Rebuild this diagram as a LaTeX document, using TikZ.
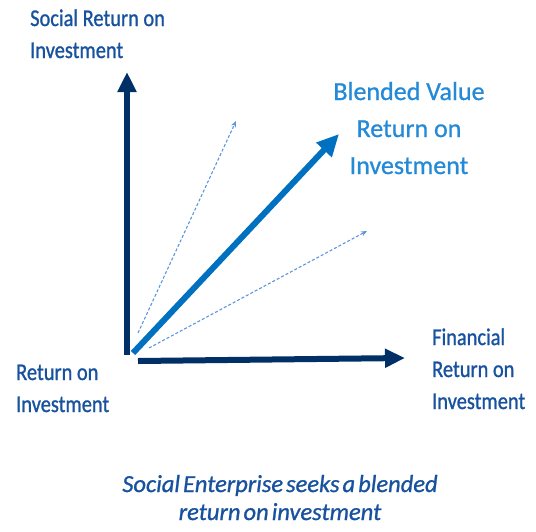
\documentclass[tikz,border=0pt]{standalone}
\usepackage{fontspec}
\usetikzlibrary{arrows.meta}
\newfontfamily\lblfont[FakeStretch=0.85,FakeBold=1]{Carlito}
\newfontfamily\bvfont[FakeBold=0.8]{Carlito}
\newfontfamily\capfont[FakeBold=1,WordSpace=0.55]{Carlito}
\definecolor{navy}{RGB}{0,48,102}
\definecolor{lblblue}{RGB}{24,82,158}
\definecolor{bvtext}{RGB}{36,138,216}
\definecolor{bvarrow}{RGB}{0,112,192}
\definecolor{dotblue}{RGB}{90,150,220}
\tikzset{
  axis/.style={draw=navy, line width=6pt, -{Triangle[length=20pt,width=18pt]}},
  blend/.style={draw=bvarrow, line width=6pt, -{Triangle[length=22pt,width=20pt]}},
  dots/.style={draw=dotblue, line width=1.1pt, dash pattern=on 3pt off 2pt, -{Stealth[length=6pt,width=5pt]}},
  lbl/.style={inner sep=0pt, text=lblblue, font=\lblfont\fontsize{24}{32}\selectfont, align=left, anchor=base west},
  bv/.style={inner sep=0pt, text=bvtext, font=\bvfont\fontsize{26}{37}\selectfont, align=center, anchor=base},
  captionstyle/.style={inner sep=0pt, text=lblblue, font=\capfont\itshape\fontsize{24.5}{28}\selectfont, align=center, anchor=base}
}
\begin{document}
\begin{tikzpicture}[x=1pt,y=-1pt]
\useasboundingbox (0,0) rectangle (536,531);
\coordinate (vo) at (127,355);
\coordinate (vt) at (127,72);
\coordinate (ho) at (138,361);
\coordinate (ht) at (405,358);
\coordinate (bo) at (133,353);
\coordinate (bt) at (339,134);
\coordinate (d1o) at (138,333);
\coordinate (d1t) at (236,121);
\coordinate (d2o) at (149,348);
\coordinate (d2t) at (367,231);
\draw[axis] (vo) -- (vt);
\draw[axis] (ho) -- (ht);
\draw[dots] (d1o) -- (d1t);
\draw[dots] (d2o) -- (d2t);
\draw[blend] (bo) -- (bt);
\node[lbl] (soc) at (30,58) {Social Return on\\Investment};
\node[bv] (blv) at (409,174) {Blended Value\\Return on\\Investment};
\node[lbl] (roi) at (16,412) {Return on\\Investment};
\node[lbl] (fin) at (432,409) {Financial\\Return on\\Investment};
\node[captionstyle] (capt) at (280,520) {Social Enterprise seeks a blended\\return on investment};
\end{tikzpicture}
\end{document}
